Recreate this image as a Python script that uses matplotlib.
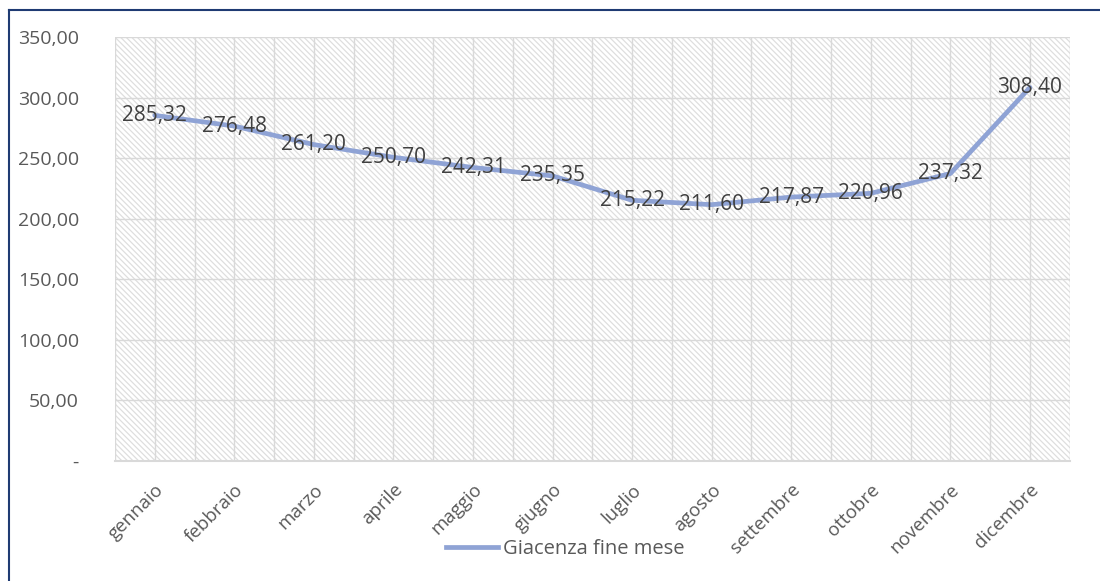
import matplotlib.pyplot as plt
from matplotlib.patches import Rectangle
from matplotlib.lines import Line2D
from matplotlib.ticker import FuncFormatter, MultipleLocator

plt.rcParams['font.family'] = ['Open Sans', 'DejaVu Sans']
plt.rcParams['hatch.color'] = '#DEDEDE'
plt.rcParams['hatch.linewidth'] = 0.9

mesi = ['gennaio', 'febbraio', 'marzo', 'aprile', 'maggio', 'giugno',
        'luglio', 'agosto', 'settembre', 'ottobre', 'novembre', 'dicembre']
giacenza = [285.32, 276.48, 261.20, 250.70, 242.31, 235.35,
            215.22, 211.60, 217.87, 220.96, 237.32, 308.40]
serie = 'Giacenza fine mese'

fig = plt.figure(figsize=(11, 5.81), dpi=100)
ax = fig.add_axes([0.1045, 0.2065, 0.868, 0.7298])

# hatched plot area
ax.add_patch(Rectangle((0, 0), 1, 1, transform=ax.transAxes, facecolor='white',
                       edgecolor='#DEDEDE', hatch='\\' * 6, linewidth=0, zorder=0))

x = range(len(mesi))
ax.plot(x, giacenza, color='#8FA3D5', linewidth=3.4, solid_capstyle='round', zorder=3)

for xi, v in zip(x, giacenza):
    ax.text(xi, v, f'{v:.2f}'.replace('.', ','), ha='center', va='center',
            fontsize=15, color='#404040', zorder=4)

ax.set_xlim(-0.5, len(mesi) - 0.5)
ax.set_ylim(0, 350)
ax.yaxis.set_major_locator(MultipleLocator(50))
ax.yaxis.set_major_formatter(FuncFormatter(
    lambda v, p: '-' if v == 0 else f'{v:.2f}'.replace('.', ',')))

# gridlines at category centres and boundaries
ax.set_xticks(list(x))
ax.set_xticks([i - 0.5 for i in range(len(mesi) + 1)], minor=True)
ax.grid(True, which='both', axis='x', color='#D9D9D9', linewidth=1, zorder=1)
ax.grid(True, which='major', axis='y', color='#D9D9D9', linewidth=1, zorder=1)
ax.set_axisbelow(True)

ax.set_xticklabels(mesi, rotation=45, ha='right', rotation_mode='anchor',
                   fontsize=13.5, color='#595959')
ax.tick_params(axis='x', which='both', length=0, pad=14)
ax.tick_params(axis='y', length=0, labelsize=14, labelcolor='#595959', pad=26)

for s in ['top', 'right', 'left']:
    ax.spines[s].set_visible(False)
ax.spines['bottom'].set_color('#D9D9D9')
ax.spines['bottom'].set_linewidth(1.5)

handle = Line2D([], [], color='#8FA3D5', linewidth=3.4)
fig.legend([handle], [serie], loc='center', bbox_to_anchor=(0.514, 0.055),
           frameon=False, fontsize=14.5, handlelength=2.6, handletextpad=0.25,
           labelcolor='#595959')

# frame border (left and top)
fig.add_artist(Line2D([0.0085, 0.0085], [0, 0.983], transform=fig.transFigure,
                      color='#1F3B73', linewidth=1.5))
fig.add_artist(Line2D([0.0085, 1.0], [0.983, 0.983], transform=fig.transFigure,
                      color='#1F3B73', linewidth=1.5))

fig.savefig('out.png', dpi=100)
